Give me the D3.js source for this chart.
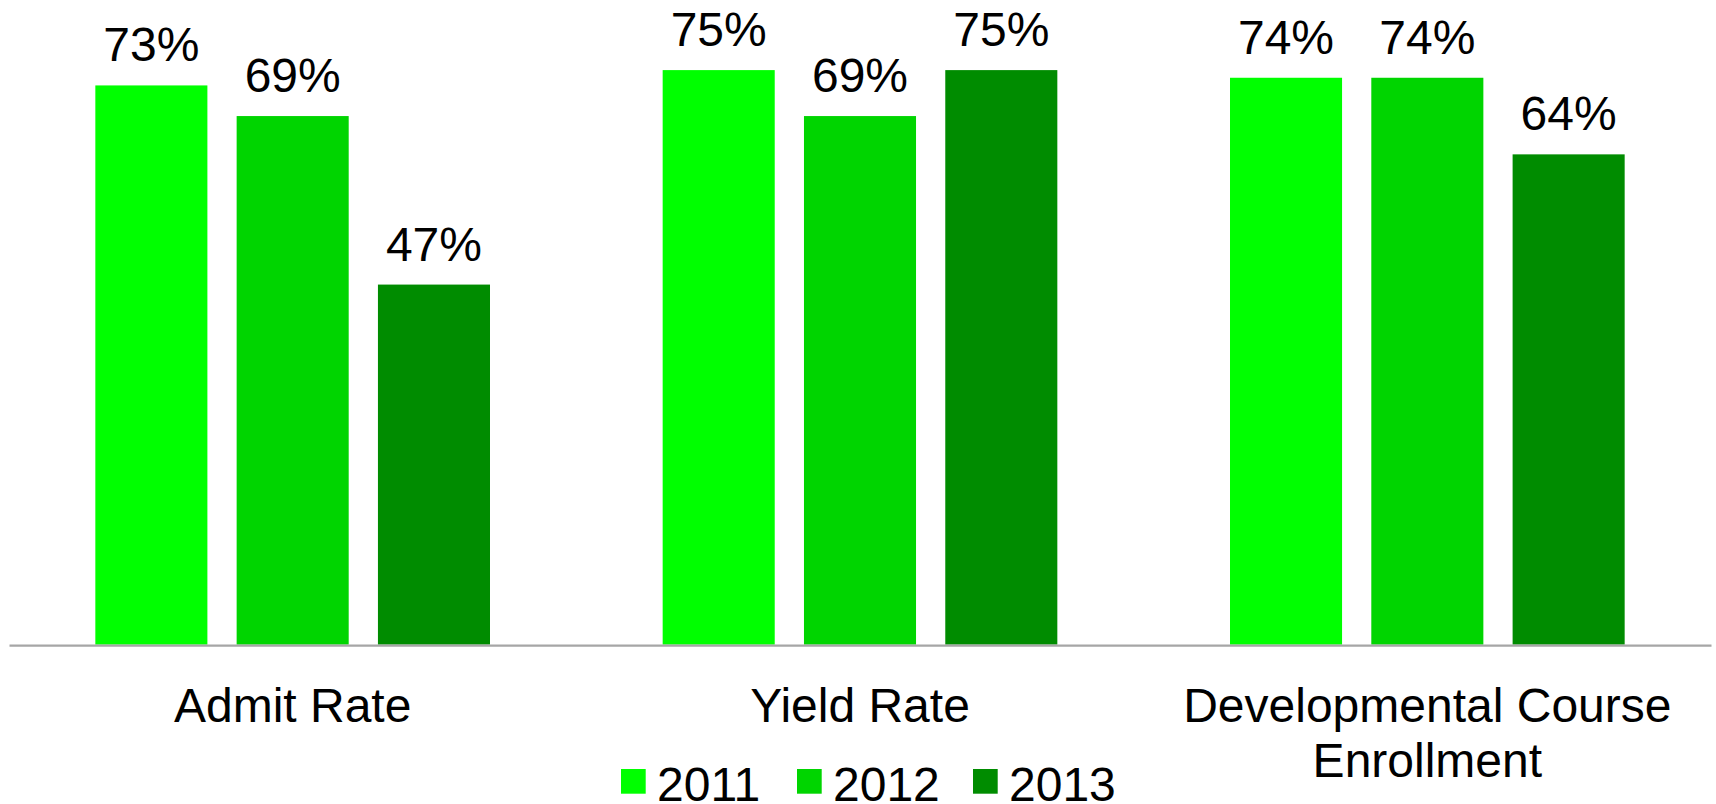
<!DOCTYPE html>
<html>
<head>
<meta charset="utf-8">
<script src="https://cdn.jsdelivr.net/npm/d3@7"></script>
<style>
  html, body { margin: 0; padding: 0; background: #ffffff; }
  svg { display: block; }
  text { font-family: "Liberation Sans", Arial, sans-serif; fill: #000000; }
</style>
</head>
<body>
<svg id="chart" width="1716" height="804"></svg>
<script>
// ---- data ----
const categories = ["Admit Rate", "Yield Rate", "Developmental Course Enrollment"];
const categoryLines = [["Admit Rate"], ["Yield Rate"], ["Developmental Course", "Enrollment"]];
const seriesNames = ["2011", "2012", "2013"];
const values2011 = [73, 75, 74];
const values2012 = [69, 69, 74];
const values2013 = [47, 75, 64];
const seriesColors = ["#00FF00", "#00D500", "#008C00"];

const seriesValues = [values2011, values2012, values2013];

// ---- layout ----
const W = 1716, H = 804;
const svg = d3.select("#chart");
const baseY = 644.6;
const plotLeft = 9, plotRight = 1711;

const x0 = d3.scaleBand().domain(categories).range([plotLeft, plotRight]).paddingInner(0).paddingOuter(0);
const x1 = d3.scaleBand().domain(seriesNames).range([0, x0.bandwidth()]).paddingInner(0.207).paddingOuter(0.611);
const y = d3.scaleLinear().domain([0, 100]).range([baseY, baseY - 766]);

const rows = categories.map((c, ci) => ({
  cat: c,
  vals: seriesNames.map((s, si) => ({ series: s, si, value: seriesValues[si][ci] }))
}));

const groups = svg.selectAll("g.grp").data(rows).enter().append("g")
  .attr("class", "grp")
  .attr("transform", d => `translate(${x0(d.cat)},0)`);

groups.selectAll("rect").data(d => d.vals).enter().append("rect")
  .attr("x", d => x1(d.series))
  .attr("y", d => y(d.value))
  .attr("width", x1.bandwidth())
  .attr("height", d => y(0) - y(d.value))
  .attr("fill", d => seriesColors[d.si]);

groups.selectAll("text.val").data(d => d.vals).enter().append("text")
  .attr("class", "val")
  .attr("x", d => x1(d.series) + x1.bandwidth() / 2)
  .attr("y", d => y(d.value) - 24)
  .attr("text-anchor", "middle")
  .attr("font-size", 48)
  .text(d => d.value + "%");

// axis baseline
const xAxis = d3.axisBottom(x0).tickSize(0).tickFormat("");
const axisG = svg.append("g").attr("transform", `translate(0,${baseY + 0.6})`).call(xAxis);
axisG.select(".domain").attr("stroke", "#A6A6A6").attr("stroke-width", 2.2);

// category labels
categories.forEach((c, ci) => {
  const t = svg.append("text")
    .attr("x", x0(c) + x0.bandwidth() / 2)
    .attr("y", 722)
    .attr("text-anchor", "middle")
    .attr("font-size", 48);
  categoryLines[ci].forEach((line, li) => {
    t.append("tspan")
      .attr("x", x0(c) + x0.bandwidth() / 2)
      .attr("dy", li === 0 ? 0 : 55)
      .text(line);
  });
});

// legend
const legendX = 621, legendStep = 176, sq = 24.7;
const leg = svg.append("g");
seriesNames.forEach((s, i) => {
  const lx = legendX + i * legendStep;
  leg.append("rect").attr("x", lx).attr("y", 769).attr("width", sq).attr("height", sq).attr("fill", seriesColors[i]);
  leg.append("text").attr("x", lx + 36).attr("y", 801).attr("font-size", 48).text(s);
});
</script>
</body>
</html>
